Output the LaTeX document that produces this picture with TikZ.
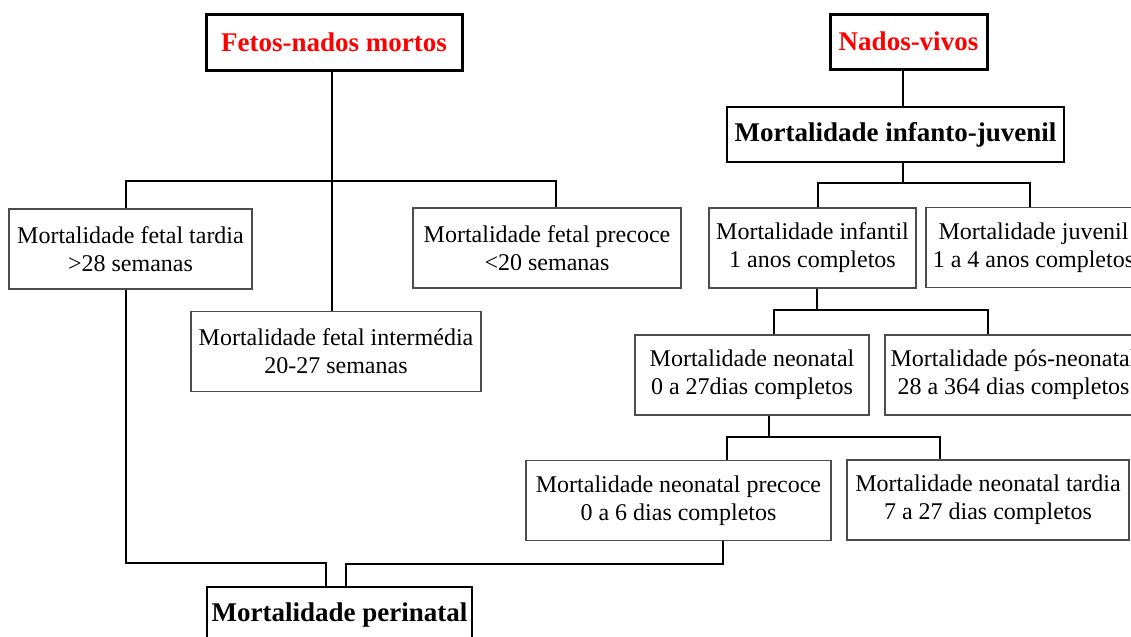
\documentclass[tikz,border=0pt]{standalone}
\usepackage{fontspec}
\setmainfont{Liberation Serif}
\usepackage{tikz}

\tikzset{
  largura/.style={minimum width=#1*0.5pt},
  altura/.style={minimum height=#1*0.5pt},
  caixa/.style={draw=black!70,line width=0.6pt,minimum height=40pt,
    font=\fontsize{12}{14}\selectfont},
  titulo/.style={draw=black,line width=1.5pt,
    font=\fontsize{13.5}{16}\selectfont\bfseries},
  ligacao/.style={line width=1pt}
}

\begin{document}
\begin{tikzpicture}
  [x=0.5pt,y=-0.5pt,every node/.style={inner sep=0pt,align=center}]
  \clip (0,0) rectangle (1131,637);

  % fetos-nados mortos
  \node[titulo,largura=256,altura=56,text=red] (fetos) at (334,42) {Fetos-nados mortos};
  \node[caixa,largura=243] (ftardia) at (130.5,249) {Mortalidade fetal tardia\\>28 semanas};
  \node[caixa,largura=268] (fprecoce) at (547,248) {Mortalidade fetal precoce\\<20 semanas};
  \node[caixa,largura=290] (finterm) at (336,351.5) {Mortalidade fetal intermédia\\20-27 semanas};

  % nados-vivos
  \node[titulo,largura=157,altura=55,text=red] (vivos) at (908.5,41.5) {Nados-vivos};
  \node[titulo,largura=337,altura=55,line width=1.25pt] (infjuv) at (895.5,134.5) {Mortalidade infanto-juvenil};
  \node[caixa,largura=207] (infantil) at (812.5,248) {Mortalidade infantil\\1 anos completos};
  \node[caixa,largura=215] (juvenil) at (1033.5,247.5) {Mortalidade juvenil\\1 a 4 anos completos};
  \node[caixa,largura=234] (neonatal) at (752,375) {Mortalidade neonatal\\0 a 27dias completos};
  \node[caixa,largura=257] (posneo) at (1013.5,375) {Mortalidade pós-neonatal\\28 a 364 dias completos};
  \node[caixa,largura=305] (neoprecoce) at (678.5,500.5) {Mortalidade neonatal precoce\\0 a 6 dias completos};
  \node[caixa,largura=282] (neotardia) at (988,500) {Mortalidade neonatal tardia\\7 a 27 dias completos};

  % perinatal
  \node[titulo,largura=265,altura=56,line width=1.25pt] (perinatal) at (339.5,615) {Mortalidade perinatal};

  % pontos de ramificacao
  \coordinate (rfetos) at (332,181);
  \coordinate (rinfjuv) at (903,183);
  \coordinate (rinfantil) at (817,310);
  \coordinate (rneonatal) at (769,437);
  \coordinate (rtardia) at (126,563);
  \coordinate (rneoprec) at (723,564);

  \draw[ligacao] (fetos.south -| rfetos) -- (finterm.north -| rfetos);
  \draw[ligacao] (ftardia.north -| 126,0) |- (rfetos) -| (fprecoce.north -| 556,0);

  \draw[ligacao] (vivos.south -| rinfjuv) -- (infjuv.north -| rinfjuv);
  \draw[ligacao] (infjuv.south -| rinfjuv) -- (rinfjuv);
  \draw[ligacao] (infantil.north -| 818,0) |- (rinfjuv) -| (juvenil.north -| 1030,0);

  \draw[ligacao] (infantil.south -| rinfantil) -- (rinfantil);
  \draw[ligacao] (neonatal.north -| 774,0) |- (rinfantil) -| (posneo.north -| 988,0);

  \draw[ligacao] (neonatal.south -| rneonatal) -- (rneonatal);
  \draw[ligacao] (neoprecoce.north -| 727,0) |- (rneonatal) -| (neotardia.north -| 940,0);

  \draw[ligacao] (ftardia.south -| rtardia) -- (rtardia) -| (perinatal.north -| 326,0);
  \draw[ligacao] (neoprecoce.south -| rneoprec) -- (rneoprec) -| (perinatal.north -| 346,0);
\end{tikzpicture}
\end{document}
